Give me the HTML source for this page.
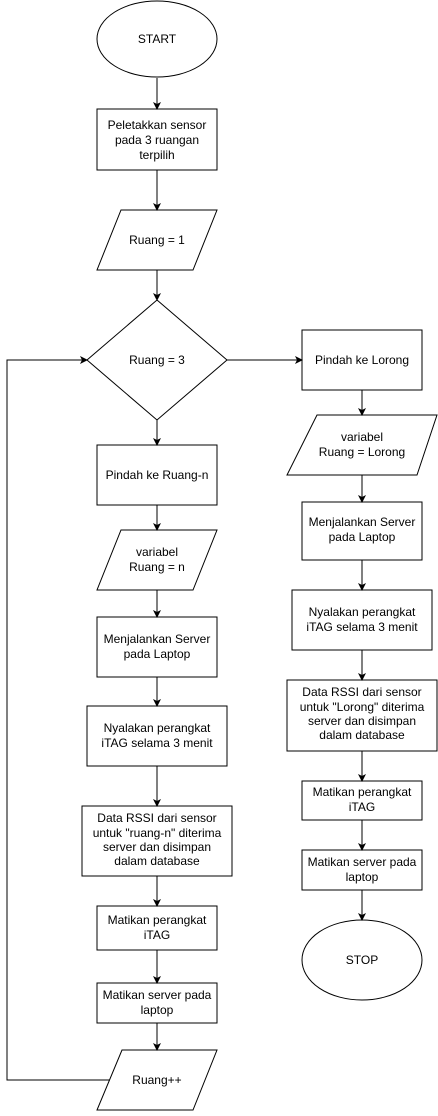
<!DOCTYPE html>
<html><head><meta charset="utf-8"><style>
html,body{margin:0;padding:0;background:#fff;}
svg text{font-family:"Liberation Sans",Arial,sans-serif;font-size:12px;fill:#000;text-anchor:middle;}
</style></head><body>
<svg width="438" height="1111" viewBox="0 0 438 1111" xmlns="http://www.w3.org/2000/svg">
<defs><marker id="a" markerWidth="8" markerHeight="8" refX="7" refY="4" orient="auto" markerUnits="userSpaceOnUse"><path d="M0,0 L8,4 L0,8 L2,4 Z" fill="#000"/></marker></defs>
<g fill="#fff" stroke="#000" stroke-width="1">
<ellipse cx="157" cy="39" rx="60" ry="38"/>
<rect x="97" y="109" width="120" height="61"/>
<polygon points="121,210 217,210 193,270 97,270"/>
<polygon points="157,300 227,360 157,420 87,360"/>
<rect x="97" y="445" width="120" height="60"/>
<polygon points="121,530 217,530 193,590 97,590"/>
<rect x="97" y="617" width="120" height="60"/>
<rect x="87" y="706" width="140" height="60"/>
<rect x="82" y="806" width="150" height="70"/>
<rect x="97" y="906" width="120" height="44"/>
<rect x="97" y="983" width="120" height="40"/>
<polygon points="122,1050 217,1050 193,1110 97,1110"/>
<rect x="302" y="330" width="120" height="60"/>
<polygon points="317,415 437,415 417,475 287,475"/>
<rect x="302" y="502" width="120" height="58"/>
<rect x="292" y="590" width="140" height="60"/>
<rect x="287" y="680" width="150" height="71"/>
<rect x="302" y="781" width="120" height="39"/>
<rect x="302" y="850" width="120" height="40"/>
<ellipse cx="362" cy="960" rx="60" ry="40"/>
</g>
<g stroke="#000" stroke-width="1" fill="none" marker-end="url(#a)">
<line x1="157" y1="78" x2="157" y2="109"/>
<line x1="157" y1="170" x2="157" y2="210"/>
<line x1="157" y1="270" x2="157" y2="300"/>
<line x1="157" y1="420" x2="157" y2="445"/>
<line x1="157" y1="505" x2="157" y2="530"/>
<line x1="157" y1="590" x2="157" y2="617"/>
<line x1="157" y1="677" x2="157" y2="706"/>
<line x1="157" y1="766" x2="157" y2="806"/>
<line x1="157" y1="876" x2="157" y2="906"/>
<line x1="157" y1="950" x2="157" y2="983"/>
<line x1="157" y1="1023" x2="157" y2="1050"/>
<polyline points="110,1080 7,1080 7,360 87,360"/>
<line x1="227" y1="360" x2="302" y2="360"/>
<line x1="362" y1="390" x2="362" y2="415"/>
<line x1="362" y1="475" x2="362" y2="502"/>
<line x1="362" y1="560" x2="362" y2="590"/>
<line x1="362" y1="650" x2="362" y2="680"/>
<line x1="362" y1="751" x2="362" y2="781"/>
<line x1="362" y1="820" x2="362" y2="850"/>
<line x1="362" y1="890" x2="362" y2="920"/>
</g>
<text x="157" y="43">START</text>
<text x="157" y="129">Peletakkan sensor</text><text x="157" y="144">pada 3 ruangan</text><text x="157" y="159">terpilih</text>
<text x="157" y="244">Ruang = 1</text>
<text x="157" y="364">Ruang = 3</text>
<text x="157" y="479">Pindah ke Ruang-n</text>
<text x="157" y="556">variabel</text><text x="157" y="571">Ruang = n</text>
<text x="157" y="643">Menjalankan Server</text><text x="157" y="658">pada Laptop</text>
<text x="157" y="732">Nyalakan perangkat</text><text x="157" y="747">iTAG selama 3 menit</text>
<text x="157" y="822">Data RSSI dari sensor</text><text x="157" y="837">untuk "ruang-n" diterima</text><text x="157" y="851">server dan disimpan</text><text x="157" y="865">dalam database</text>
<text x="157" y="924">Matikan perangkat</text><text x="157" y="939">iTAG</text>
<text x="157" y="999">Matikan server pada</text><text x="157" y="1014">laptop</text>
<text x="157" y="1084">Ruang++</text>
<text x="362" y="364">Pindah ke Lorong</text>
<text x="362" y="441">variabel</text><text x="362" y="456">Ruang = Lorong</text>
<text x="362" y="526">Menjalankan Server</text><text x="362" y="541">pada Laptop</text>
<text x="362" y="616">Nyalakan perangkat</text><text x="362" y="631">iTAG selama 3 menit</text>
<text x="362" y="696">Data RSSI dari sensor</text><text x="362" y="711">untuk "Lorong" diterima</text><text x="362" y="725">server dan disimpan</text><text x="362" y="739">dalam database</text>
<text x="362" y="796">Matikan perangkat</text><text x="362" y="811">iTAG</text>
<text x="362" y="866">Matikan server pada</text><text x="362" y="881">laptop</text>
<text x="362" y="964">STOP</text>
</svg>
</body></html>
